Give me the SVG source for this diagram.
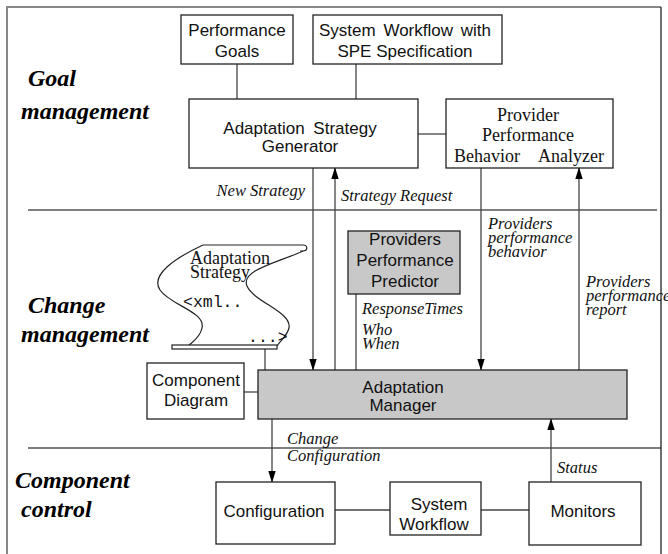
<svg xmlns="http://www.w3.org/2000/svg" width="668" height="554" viewBox="0 0 668 554">
<defs>
<marker id="ah" markerUnits="userSpaceOnUse" markerWidth="12" markerHeight="19" refX="18" refY="6" orient="auto" viewBox="0 0 19 12">
<path d="M0,0 L19,6 L0,12 Z" fill="#000"/>
</marker>
<style>
.box{fill:#fff;stroke:#222;stroke-width:1.3}
.gbox{fill:#c8c8c8;stroke:#222;stroke-width:1.3}
.ln{stroke:#444;stroke-width:1.3;fill:none}
.div{stroke:#000;stroke-width:1.2}
.sans{font-family:"Liberation Sans",Arial,sans-serif;font-size:17px;fill:#111;text-anchor:middle}
.serif{font-family:"Liberation Serif","Times New Roman",serif;font-size:18px;fill:#111}
.it{font-family:"Liberation Serif","Times New Roman",serif;font-style:italic;font-size:16.5px;fill:#111}
.sec{font-family:"Liberation Serif","Times New Roman",serif;font-style:italic;font-weight:bold;font-size:24px;fill:#000}
.mono{font-family:"Liberation Mono","Courier New",monospace;font-size:16.5px;fill:#111}
</style>
</defs>
<rect width="668" height="554" fill="#fff"/>
<g id="frame">
<path d="M7,554 V7 H661" fill="none" stroke="#888" stroke-width="2"/>
<path d="M661,7 V554" fill="none" stroke="#222" stroke-width="1.3"/>
<line class="div" x1="28" y1="210" x2="657" y2="210"/>
<line class="div" x1="28" y1="448" x2="661" y2="448"/>
</g>
<g id="labels">
<text class="sec" x="28" y="86">Goal</text>
<text class="sec" x="21" y="119">management</text>
<text class="sec" x="28" y="313">Change</text>
<text class="sec" x="21" y="342">management</text>
<text class="sec" x="15" y="488">Component</text>
<text class="sec" x="21" y="517">control</text>
</g>
<g id="connectors">
<line class="ln" x1="237" y1="64" x2="237" y2="99"/>
<line class="ln" x1="356" y1="64" x2="356" y2="99"/>
<line class="ln" x1="418" y1="134" x2="446" y2="134"/>
<line class="ln" x1="313" y1="168" x2="313" y2="370" marker-end="url(#ah)"/>
<line class="ln" x1="335" y1="370" x2="335" y2="168" marker-end="url(#ah)"/>
<line class="ln" x1="481" y1="168" x2="481" y2="370" marker-end="url(#ah)"/>
<line class="ln" x1="579" y1="370" x2="579" y2="168" marker-end="url(#ah)"/>
<line class="ln" x1="356" y1="294" x2="356" y2="370"/>
<line class="ln" x1="265" y1="349" x2="265" y2="370"/>
<line class="ln" x1="244" y1="392" x2="258" y2="392"/>
<line class="ln" x1="272" y1="419" x2="272" y2="482" marker-end="url(#ah)"/>
<line class="ln" x1="551" y1="482" x2="551" y2="419" marker-end="url(#ah)"/>
<line class="ln" x1="335" y1="510" x2="390" y2="510"/>
<line class="ln" x1="481" y1="510" x2="529" y2="510"/>
<text class="it" x="305" y="196" text-anchor="end">New Strategy</text>
<text class="it" x="341" y="201">Strategy Request</text>
<text class="it" x="488" y="229" font-size="16.5">Providers</text>
<text class="it" x="488" y="243" font-size="16.5">performance</text>
<text class="it" x="488" y="257" font-size="16.5">behavior</text>
<text class="it" x="586" y="287" font-size="16.5">Providers</text>
<text class="it" x="586" y="301" font-size="16.5">performance</text>
<text class="it" x="586" y="315" font-size="16.5">report</text>
<text class="it" x="362" y="314" font-size="17">ResponseTimes</text>
<text class="it" x="362" y="335" font-size="16.5">Who</text>
<text class="it" x="362" y="349" font-size="16.5">When</text>
<text class="it" x="287" y="444">Change</text>
<text class="it" x="287" y="461">Configuration</text>
<text class="it" x="557" y="473">Status</text>
</g>
<g id="performance-goals">
<rect class="box" x="181" y="15" width="112" height="49"/>
<text class="sans" x="237" y="36">Performance</text>
<text class="sans" x="237" y="57">Goals</text>
</g>
<g id="system-workflow-spe">
<rect class="box" x="313" y="15" width="189" height="49"/>
<text class="sans" x="405" y="36" word-spacing="3">System Workflow with</text>
<text class="sans" x="405" y="57">SPE Specification</text>
</g>
<g id="strategy-generator">
<rect class="box" x="189" y="99" width="229" height="69"/>
<text class="sans" x="300" y="134" word-spacing="4">Adaptation Strategy</text>
<text class="sans" x="300" y="152">Generator</text>
</g>
<g id="behavior-analyzer">
<rect class="box" x="446" y="99" width="167" height="69"/>
<text class="serif" x="528" y="121" text-anchor="middle">Provider</text>
<text class="serif" x="528" y="141" text-anchor="middle">Performance</text>
<text class="serif" x="454" y="162">Behavior</text>
<text class="serif" x="604" y="162" text-anchor="end">Analyzer</text>
</g>
<g id="performance-predictor">
<rect class="gbox" x="348" y="231" width="112" height="63"/>
<text class="sans" x="405" y="245">Providers</text>
<text class="sans" x="405" y="266">Performance</text>
<text class="sans" x="405" y="287">Predictor</text>
</g>
<g id="adaptation-strategy-doc">
<path d="M203,245 H303 C308,245 308,251 303,251 H300" fill="#fff" stroke="#222" stroke-width="1.2"/>
<path d="M203,245 C175,258 150,275 160,290 C170,305 206,312 202,328 C200,338 192,342 188,346" fill="none" stroke="#222" stroke-width="1.2"/>
<path d="M303,251 C280,262 240,270 247,286 C254,302 292,312 289,328 C287,336 281,340 277,346" fill="none" stroke="#222" stroke-width="1.2"/>
<rect x="172" y="345" width="105" height="4" fill="#fff" stroke="#222" stroke-width="1.2"/>
<text class="serif" x="190" y="264" font-size="16.5">Adaptation</text>
<text class="serif" x="190" y="278" font-size="16.5">Strategy</text>
<text class="mono" x="183" y="307">&lt;xml..</text>
<text class="mono" x="248" y="342">...&gt;</text>
</g>
<g id="component-diagram">
<rect class="box" x="147" y="363" width="97" height="56"/>
<text class="sans" x="196" y="386">Component</text>
<text class="sans" x="196" y="406">Diagram</text>
</g>
<g id="adaptation-manager">
<rect class="gbox" x="258" y="370" width="369" height="49"/>
<text class="sans" x="403" y="393">Adaptation</text>
<text class="sans" x="403" y="411">Manager</text>
</g>
<g id="configuration">
<rect class="box" x="216" y="482" width="119" height="62"/>
<text class="sans" x="274" y="517">Configuration</text>
</g>
<g id="system-workflow">
<rect class="box" x="390" y="482" width="91" height="53"/>
<text class="sans" x="439" y="510">System</text>
<text class="sans" x="434" y="530">Workflow</text>
</g>
<g id="monitors">
<rect class="box" x="529" y="482" width="112" height="63"/>
<text class="sans" x="583" y="517">Monitors</text>
</g>
</svg>
